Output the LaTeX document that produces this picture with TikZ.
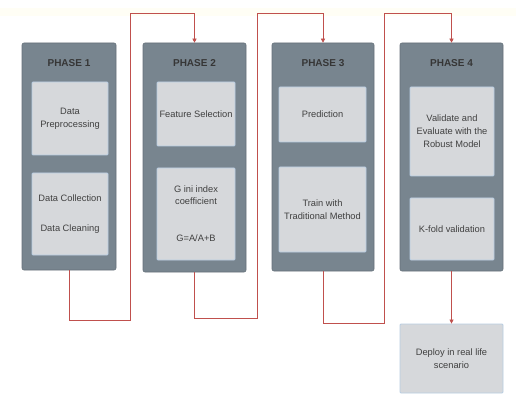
\documentclass[tikz,border=0pt]{standalone}
\usepackage{fontspec}
\setmainfont{Liberation Sans}
\usetikzlibrary{arrows.meta}
\definecolor{outerc}{HTML}{78858F}
\definecolor{innerc}{HTML}{D6D8DB}
\definecolor{innerb}{HTML}{B9CDE2}
\definecolor{linkc}{HTML}{C0504D}
\definecolor{txt}{HTML}{404040}
\tikzset{
  outer/.style={draw=outerc!85!black, fill=outerc, rounded corners=2pt, line width=0.6pt},
  inner/.style={draw=innerb, fill=innerc, line width=0.8pt, rounded corners=1pt, align=center,
    text=txt, font=\fontsize{9.3}{13}\selectfont, inner sep=1pt},
  title/.style={text=txt!85!black, font=\fontsize{10}{12}\selectfont\bfseries},
  link/.style={draw=linkc, line width=0.6pt},
  arr/.style={-{Triangle[length=4pt,width=4pt]}}
}
\begin{document}
\begin{tikzpicture}[x=1pt,y=-1pt]
\useasboundingbox[fill=white] (0,0) rectangle (516,395);
\fill[yellow!4!white] (0,8) rectangle (516,16);
% outer phase boxes
\node[outer, minimum width=94pt, minimum height=227pt] (p1) at (69,156.5) {};
\node[outer, minimum width=103pt, minimum height=229pt] (p2) at (194.5,157.5) {};
\node[outer, minimum width=102pt, minimum height=228pt] (p3) at (323,157) {};
\node[outer, minimum width=103pt, minimum height=228pt] (p4) at (451.5,157) {};
% titles
\node[title] (t1) at (69,63) {PHASE 1};
\node[title] (t2) at (194.5,63) {PHASE 2};
\node[title] (t3) at (323,63) {PHASE 3};
\node[title] (t4) at (451.5,63) {PHASE 4};
% inner boxes
\node[inner, minimum width=76pt, minimum height=73pt] (i11) at (70,118.5) {Data\\Preprocessing};
\node[inner, minimum width=76pt, minimum height=82pt] (i12) at (70,214) {Data Collection\\[17pt]Data Cleaning};
\node[inner, minimum width=78pt, minimum height=64pt] (i21) at (196,114) {Feature Selection};
\node[inner, minimum width=78pt, minimum height=92pt] (i22) at (196,214) {G ini index\\[-1pt]coefficient\\[24pt]G=A/A+B};
\node[inner, minimum width=87pt, minimum height=55pt] (i31) at (322.5,114.5) {Prediction};
\node[inner, minimum width=87pt, minimum height=85pt] (i32) at (322.5,209.5) {Train with\\Traditional Method};
\node[inner, minimum width=84pt, minimum height=89pt] (i41) at (452,131.5) {Validate and\\Evaluate with the\\Robust Model};
\node[inner, minimum width=84pt, minimum height=62pt] (i42) at (452,229) {K-fold validation};
% deploy
\node[inner, minimum width=103pt, minimum height=69pt] (dep) at (451.5,358.5) {Deploy in real life\\scenario};
% routing coordinates
\coordinate (a1) at (130,320);
\coordinate (b1) at (130,13);
\coordinate (a2) at (257,318);
\coordinate (b2) at (257,13);
\coordinate (a3) at (384,323);
\coordinate (b3) at (384,13);
% connectors
\draw[link, arr] (p1.south) |- (a1) -- (b1) -| (p2.north);
\draw[link, arr] (p2.south) |- (a2) -- (b2) -| (p3.north);
\draw[link, arr] (p3.south) |- (a3) -- (b3) -| (p4.north);
\draw[link, arr] (p4.south) -- (dep.north);
\end{tikzpicture}
\end{document}
